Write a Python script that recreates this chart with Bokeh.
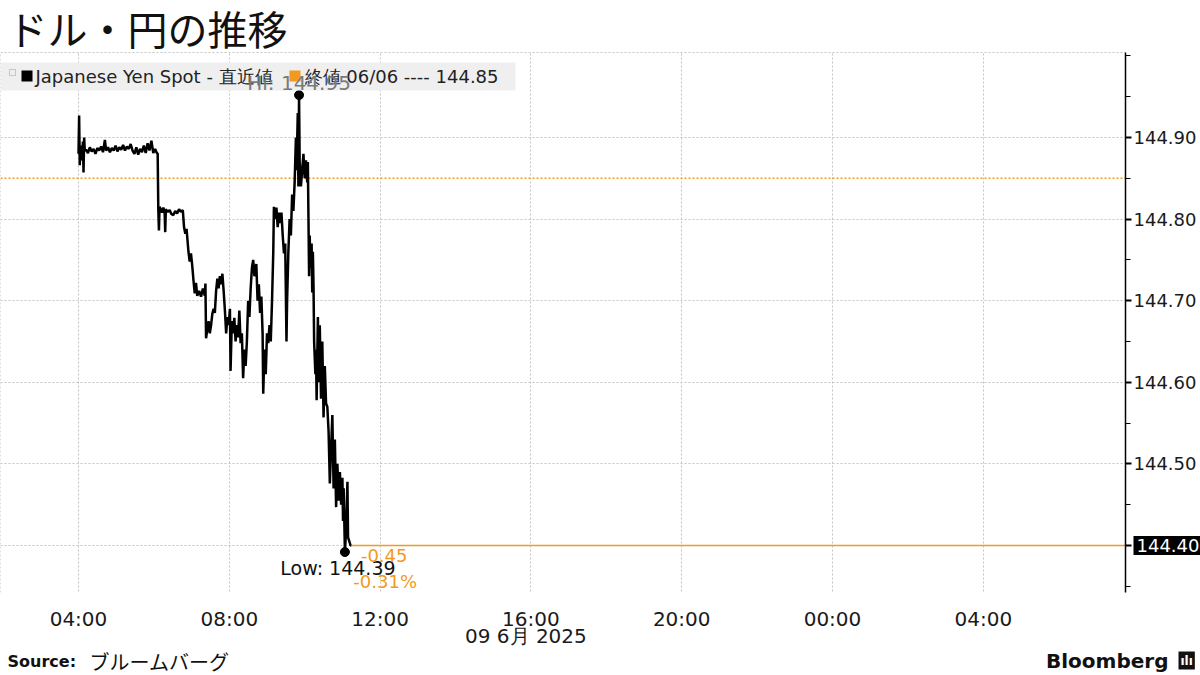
from bokeh.plotting import figure
from bokeh.models import (Range1d, FixedTicker, Label, BoxAnnotation, NumeralTickFormatter)
from bokeh.embed import file_html
from bokeh.resources import INLINE

# ---------------- data ----------------
title_text = "ドル・円の推移"
series_name = "Japanese Yen Spot - 直近値"
close_name = "終値 06/06 ---- 144.85"
prev_close = 144.85
date_label = "09 6月 2025"
source_bold = "Source:"
source_text = "ブルームバーグ"
brand = "Bloomberg"

times = [
    "04:00", "04:01", "04:02", "04:03", "04:04", "04:05", "04:06", "04:07", "04:08", "04:09",
    "04:10", "04:12", "04:15", "04:18", "04:21", "04:24", "04:27", "04:30", "04:33", "04:36",
    "04:39", "04:42", "04:44", "04:47", "04:50", "04:53", "04:56", "04:59", "05:02", "05:05",
    "05:08", "05:11", "05:14", "05:17", "05:20", "05:23", "05:26", "05:29", "05:32", "05:35",
    "05:38", "05:41", "05:44", "05:47", "05:50", "05:53", "05:56", "05:59", "06:02", "06:04",
    "06:06", "06:07", "06:08", "06:09", "06:11", "06:13", "06:15", "06:17", "06:18", "06:19",
    "06:22", "06:25", "06:28", "06:31", "06:34", "06:37", "06:40", "06:43", "06:46", "06:48",
    "06:50", "06:52", "06:55", "06:57", "06:59", "07:01", "07:03", "07:05", "07:07", "07:09",
    "07:12", "07:15", "07:18", "07:21", "07:22", "07:23", "07:25", "07:27", "07:29", "07:31",
    "07:33", "07:35", "07:37", "07:39", "07:41", "07:43", "07:45", "07:47", "07:49", "07:51",
    "07:53", "07:55", "07:57", "07:59", "08:01", "08:02", "08:04", "08:06", "08:08", "08:10",
    "08:12", "08:14", "08:16", "08:18", "08:20", "08:22", "08:24", "08:26", "08:28", "08:30",
    "08:32", "08:34", "08:36", "08:38", "08:40", "08:43", "08:45", "08:47", "08:49", "08:51",
    "08:53", "08:54", "08:56", "08:58", "09:00", "09:02", "09:04", "09:06", "09:08", "09:10",
    "09:11", "09:13", "09:15", "09:17", "09:19", "09:21", "09:23", "09:25", "09:27", "09:29",
    "09:31", "09:32", "09:34", "09:36", "09:38", "09:40", "09:42", "09:44", "09:46", "09:47",
    "09:49", "09:50", "09:51", "09:52", "09:54", "09:56", "09:58", "10:00", "10:02", "10:04",
    "10:05", "10:06", "10:07", "10:08", "10:09", "10:11", "10:12", "10:13", "10:14", "10:15",
    "10:17", "10:18", "10:19", "10:21", "10:22", "10:24", "10:26", "10:28", "10:30", "10:32",
    "10:34", "10:36", "10:38", "10:40", "10:42", "10:44", "10:46", "10:48", "10:50", "10:52",
    "10:54", "10:56", "10:58", "11:00", "11:01", "11:02", "11:04", "11:06", "11:08", "11:09",
    "11:11", "11:13", "11:14",
]
prices = [
    144.880, 144.927, 144.866, 144.886, 144.872, 144.890, 144.878, 144.895, 144.857, 144.900,
    144.884, 144.885, 144.881, 144.888, 144.883, 144.886, 144.880, 144.887, 144.884, 144.889,
    144.882, 144.897, 144.884, 144.888, 144.882, 144.887, 144.884, 144.890, 144.883, 144.888,
    144.885, 144.891, 144.884, 144.889, 144.886, 144.892, 144.884, 144.880, 144.888, 144.879,
    144.886, 144.882, 144.890, 144.881, 144.893, 144.884, 144.896, 144.881, 144.886, 144.882,
    144.880, 144.812, 144.786, 144.815, 144.812, 144.808, 144.814, 144.810, 144.784, 144.812,
    144.809, 144.811, 144.806, 144.805, 144.810, 144.807, 144.812, 144.809, 144.811, 144.790,
    144.782, 144.788, 144.760, 144.748, 144.758, 144.743, 144.725, 144.709, 144.722, 144.706,
    144.712, 144.705, 144.715, 144.706, 144.721, 144.654, 144.665, 144.675, 144.660, 144.670,
    144.684, 144.690, 144.685, 144.712, 144.727, 144.715, 144.730, 144.720, 144.733, 144.712,
    144.688, 144.660, 144.680, 144.670, 144.690, 144.614, 144.675, 144.660, 144.679, 144.650,
    144.670, 144.655, 144.688, 144.648, 144.660, 144.605, 144.640, 144.620, 144.650, 144.700,
    144.680, 144.715, 144.740, 144.750, 144.730, 144.745, 144.700, 144.720, 144.685, 144.705,
    144.660, 144.586, 144.640, 144.610, 144.660, 144.648, 144.670, 144.650, 144.700, 144.760,
    144.815, 144.800, 144.814, 144.790, 144.808, 144.795, 144.808, 144.780, 144.758, 144.770,
    144.650, 144.700, 144.760, 144.800, 144.780, 144.830, 144.810, 144.845, 144.900, 144.860,
    144.930, 144.840, 144.952, 144.870, 144.840, 144.860, 144.880, 144.850, 144.872, 144.845,
    144.870, 144.800, 144.730, 144.780, 144.740, 144.770, 144.710, 144.760, 144.720, 144.650,
    144.610, 144.640, 144.578, 144.680, 144.600, 144.670, 144.580, 144.650, 144.557, 144.620,
    144.574, 144.570, 144.540, 144.476, 144.520, 144.560, 144.470, 144.530, 144.447, 144.500,
    144.455, 144.490, 144.450, 144.483, 144.430, 144.470, 144.392, 144.420, 144.478, 144.410,
    144.405, 144.400, 144.400,
]

x_ticks = [4, 8, 12, 16, 20, 24, 28]
x_tick_labels = ["04:00", "08:00", "12:00", "16:00", "20:00", "00:00", "04:00"]
y_major = [144.40, 144.50, 144.60, 144.70, 144.80, 144.90]
y_minor = [144.35, 144.45, 144.55, 144.65, 144.75, 144.85, 144.95, 145.00]

# ---------------- derived ----------------
hours = [int(t[:2]) + int(t[3:]) / 60 for t in times]
hi_i = max(range(len(prices)), key=lambda i: prices[i])
lo_i = min(range(len(prices)), key=lambda i: prices[i])
last_t, last_v = hours[-1], prices[-1]
chg = last_v - prev_close
pct = chg / prev_close * 100

ORANGE = "#F39A1E"
GRID = "#c4c4c4"
LEG_BG = "#efefef"
FONT = "DejaVu Sans"
CJK = "Noto Sans CJK JP"

# ---------------- layout: one frame covering the whole canvas ----------------
W, H = 1200, 675
PX_PER_H = 37.7          # pixels per hour
PX_PER_P = 816.0         # pixels per 1.00 yen
X0 = 4 - 78 / PX_PER_H   # 04:00 sits 78 px from the left


def dx(px):
    return X0 + px / PX_PER_H


def dy(py):
    return 144.40 + (545 - py) / PX_PER_P


X1, Y0, Y1 = dx(W), dy(H), dy(0)
XA = dx(1125)             # price axis position
YT, YB = dy(52), dy(592)  # chart top / bottom

p = figure(width=W, height=H, x_range=Range1d(X0, X1), y_range=Range1d(Y0, Y1),
           y_axis_location="right", output_backend="svg", toolbar_location=None,
           min_border=0)
p.outline_line_color = None
p.background_fill_color = "white"
p.border_fill_color = "white"

# x axis (fixed inside the frame at the chart bottom)
p.xaxis.fixed_location = YB
p.xaxis.ticker = FixedTicker(ticks=x_ticks)
p.xaxis.major_label_overrides = dict(zip(x_ticks, x_tick_labels))
p.xaxis.axis_line_color = None
p.xaxis.major_tick_line_color = None
p.xaxis.minor_tick_line_color = None
p.xaxis.major_label_standoff = 8
p.xaxis.major_label_text_font = FONT
p.xaxis.major_label_text_font_size = "20px"
p.xaxis.major_label_text_color = "#1a1a1a"

# y axis (fixed at the right edge of the chart)
p.yaxis.fixed_location = XA
p.yaxis.bounds = (YB, YT)
p.yaxis.ticker = FixedTicker(ticks=y_major, minor_ticks=y_minor)
p.yaxis.formatter = NumeralTickFormatter(format="0.00")
p.yaxis.axis_line_color = "black"
p.yaxis.axis_line_width = 1.5
p.yaxis.major_tick_out = 6
p.yaxis.major_tick_in = 0
p.yaxis.major_tick_line_width = 2
p.yaxis.minor_tick_out = 5
p.yaxis.minor_tick_in = 0
p.yaxis.minor_tick_line_color = "black"
p.yaxis.major_label_standoff = 2
p.yaxis.major_label_text_font = FONT
p.yaxis.major_label_text_font_size = "18px"
p.yaxis.major_label_text_color = "#1a1a1a"

for g in (p.xgrid, p.ygrid):
    g.grid_line_color = GRID
    g.grid_line_dash = "2 2"
    g.grid_line_width = 1
p.xgrid.ticker = FixedTicker(ticks=x_ticks)
p.ygrid.ticker = FixedTicker(ticks=y_major)

# white masks: keep grid lines inside the chart area
for l, r, b, t in ((X0, X1, YT, Y1), (X0, X1, Y0, YB), (XA, X1, Y0, Y1)):
    p.add_layout(BoxAnnotation(left=l, right=r, bottom=b, top=t, fill_color="white",
                               fill_alpha=1, line_color=None, level="underlay"))

# chart top / left dotted borders
p.segment(x0=[X0, X0], y0=[YT, YB], x1=[XA, X0], y1=[YT, YT], line_color=GRID,
          line_dash="2 2", line_width=1)

# previous close dotted line (to the axis)
p.segment(x0=[X0], y0=[prev_close], x1=[XA], y1=[prev_close], line_color=ORANGE,
          line_dash="2 2", line_width=1.5)

# last value line
p.segment(x0=[last_t], y0=[last_v], x1=[XA], y1=[last_v], line_color=ORANGE,
          line_width=1.5)

# series
p.line(hours, prices, line_color="black", line_width=2.5)

# hi / low dots
p.scatter([hours[hi_i], hours[lo_i]], [prices[hi_i], prices[lo_i]], size=9, color="black")

# legend strip (background, swatches, labels)
p.add_layout(BoxAnnotation(left=dx(0), right=dx(515), bottom=dy(90), top=dy(62),
                           fill_color=LEG_BG, fill_alpha=1, line_color=None))
p.add_layout(BoxAnnotation(left=dx(9), right=dx(15), bottom=dy(75), top=dy(69),
                           fill_color=None, line_color="#666666", line_width=1))
p.add_layout(BoxAnnotation(left=dx(21), right=dx(32), bottom=dy(81), top=dy(70),
                           fill_color="black", fill_alpha=1, line_color=None))
p.add_layout(BoxAnnotation(left=dx(289), right=dx(300), bottom=dy(81), top=dy(70),
                           fill_color=ORANGE, fill_alpha=1, line_color=None))
p.add_layout(Label(x=dx(35), y=dy(76), text=series_name, text_align="left",
                   text_baseline="middle", text_color="#222222", text_font=FONT,
                   text_font_size="18px"))
p.add_layout(Label(x=dx(304), y=dy(76), text=close_name, text_align="left",
                   text_baseline="middle", text_color="#222222", text_font=FONT,
                   text_font_size="18px"))

# hi / low / change labels
p.add_layout(Label(x=hours[hi_i], y=prices[hi_i], text=f"Hi: {prices[hi_i]:.2f}",
                   text_align="center", text_baseline="bottom", y_offset=0,
                   text_color="#7a7a7a", text_font=FONT, text_font_size="20px"))
p.add_layout(Label(x=hours[lo_i], y=prices[lo_i], text=f"Low: {prices[lo_i]:.2f}",
                   text_align="center", text_baseline="top", x_offset=-7, y_offset=-5,
                   text_color="#111111", text_font=FONT, text_font_size="19px"))
p.add_layout(Label(x=last_t, y=last_v, text=f"{chg:.2f}", text_align="center",
                   text_baseline="middle", x_offset=33, y_offset=-10,
                   text_color=ORANGE, text_font=FONT, text_font_size="18px"))
p.add_layout(Label(x=last_t, y=last_v, text=f"{pct:.2f}%", text_align="center",
                   text_baseline="middle", x_offset=34, y_offset=-36,
                   text_color=ORANGE, text_font=FONT, text_font_size="18px"))

# last value box on the price axis
p.add_layout(Label(x=XA, y=last_v, text=f"{last_v:.2f}", text_align="left",
                   text_baseline="middle", x_offset=8, text_color="white",
                   background_fill_color="black", padding=3,
                   text_font=FONT, text_font_size="18px", level="overlay"))

# title
p.add_layout(Label(x=dx(7), y=dy(27), text=title_text, text_align="left",
                   text_baseline="middle", text_color="#111111", text_font=CJK,
                   text_font_size="40px"))

# date line under the time axis
p.add_layout(Label(x=x_ticks[3], y=dy(635), x_offset=-5, text=date_label,
                   text_align="center", text_baseline="middle",
                   text_color="#1a1a1a", text_font=FONT, text_font_size="20px"))

# footer
p.add_layout(Label(x=dx(7), y=dy(661), text=source_bold, text_align="left",
                   text_baseline="middle", text_color="#111111",
                   text_font=FONT, text_font_size="16px", text_font_style="bold"))
p.add_layout(Label(x=dx(89), y=dy(661), text=source_text, text_align="left",
                   text_baseline="middle", text_color="#111111",
                   text_font=CJK, text_font_size="20px"))
p.add_layout(Label(x=dx(1168), y=dy(660), text=brand, text_align="right",
                   text_baseline="middle", text_color="#111111",
                   text_font=FONT, text_font_size="20px", text_font_style="bold"))
p.add_layout(Label(x=dx(1178), y=dy(660), text="ılı", text_align="left",
                   text_baseline="middle", text_color="white",
                   background_fill_color="#111111", padding=2,
                   text_font=FONT, text_font_size="12px", text_font_style="bold"))

open("out.html", "w").write(file_html(p, INLINE))
